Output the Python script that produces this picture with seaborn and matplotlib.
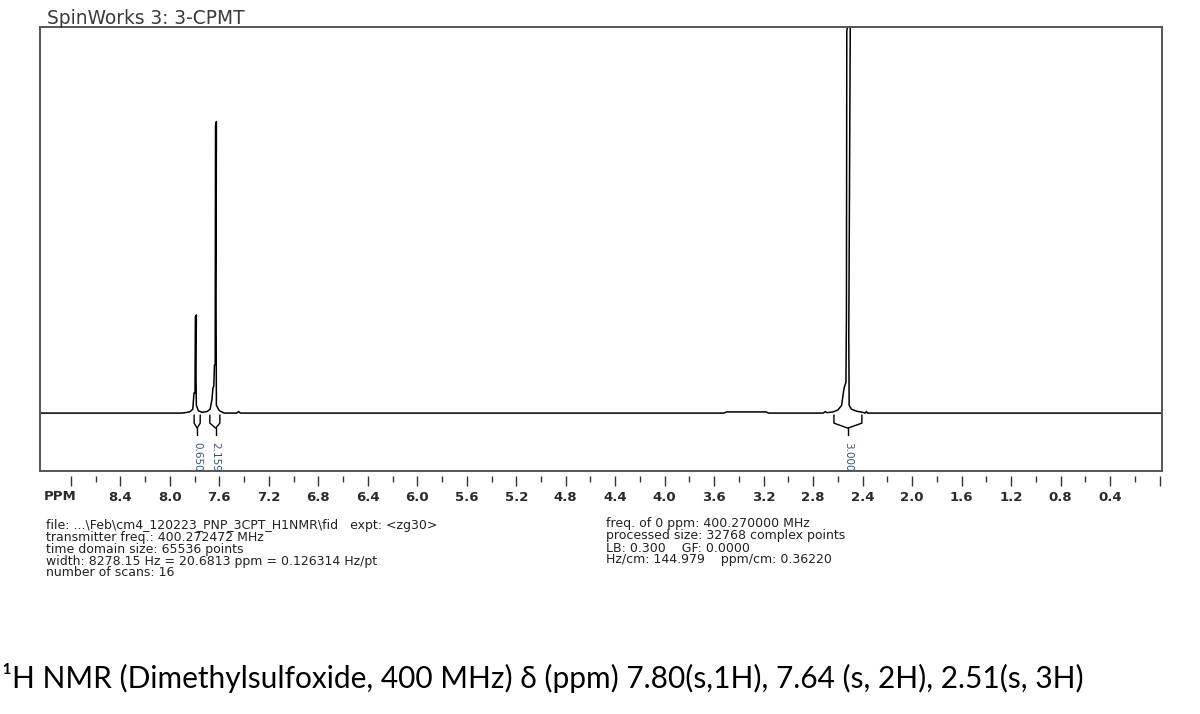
"""
1H NMR 谱图 (SpinWorks 风格) 复刻
输出: out.png
"""
import numpy as np
import pandas as pd
import matplotlib
matplotlib.use('Agg')
import matplotlib.pyplot as plt
from matplotlib.ticker import FixedLocator, NullFormatter
import seaborn as sns

# ---- 数据 ----
# 谱线顶点: 化学位移 (ppm) 与 相对强度 (2.51 峰 = 1.0)
spec_ppm = [9.05, 7.90, 7.84, 7.815, 7.805, 7.797, 7.794, 7.786, 7.789, 7.786, 7.77, 7.74,
            7.70, 7.675, 7.66, 7.652, 7.645, 7.640, 7.634, 7.631, 7.624, 7.627, 7.624, 7.60, 7.56,
            7.46, 7.445, 7.43,
            3.52, 3.50, 3.18, 3.16,
            2.72, 2.70, 2.69, 2.64, 2.60, 2.57, 2.55, 2.535, 2.531, 2.528, 2.522, 2.50,
            2.512, 2.509, 2.49, 2.45, 2.40, 2.38, 2.37, 2.36, -0.02]
spec_int = [0.0, 0.0, 0.003, 0.010, 0.052, 0.052, 0.249, 0.254, 0.10, 0.02, 0.006, 0.002,
            0.004, 0.010, 0.035, 0.065, 0.070, 0.124, 0.126, 0.745, 0.755, 0.30, 0.02, 0.006, 0.0,
            0.0, 0.004, 0.0,
            0.0, 0.003, 0.003, 0.0,
            0.0, 0.004, 0.001, 0.003, 0.008, 0.020, 0.065, 0.080, 0.25, 0.99, 1.0, 1.0,
            0.20, 0.02, 0.010, 0.005, 0.002, 0.0, 0.004, 0.0, 0.0]

# 积分区间 (ppm) 与 积分值
int_left = [7.804, 7.677, 2.632]
int_right = [7.755, 7.596, 2.406]
int_center = [7.780, 7.630, 2.520]
int_labels = ['0.650', '2.159', '3.000']

# 刻度
major_ticks = [8.8, 8.4, 8.0, 7.6, 7.2, 6.8, 6.4, 6.0, 5.6, 5.2, 4.8, 4.4,
               4.0, 3.6, 3.2, 2.8, 2.4, 2.0, 1.6, 1.2, 0.8, 0.4, 0.0]
minor_ticks = [8.6, 8.2, 7.8, 7.4, 7.0, 6.6, 6.2, 5.8, 5.4, 5.0, 4.6, 4.2,
               3.8, 3.4, 3.0, 2.6, 2.2, 1.8, 1.4, 1.0, 0.6, 0.2]
tick_labels = ['', '8.4', '8.0', '7.6', '7.2', '6.8', '6.4', '6.0', '5.6', '5.2', '4.8', '4.4',
               '4.0', '3.6', '3.2', '2.8', '2.4', '2.0', '1.6', '1.2', '0.8', '0.4', '']

info_left = ['file: ...\\Feb\\cm4_120223_PNP_3CPT_H1NMR\\fid   expt: <zg30>',
             'transmitter freq.: 400.272472 MHz',
             'time domain size: 65536 points',
             'width: 8278.15 Hz = 20.6813 ppm = 0.126314 Hz/pt',
             'number of scans: 16']
info_right = ['freq. of 0 ppm: 400.270000 MHz',
              'processed size: 32768 complex points',
              'LB: 0.300    GF: 0.0000',
              'Hz/cm: 144.979    ppm/cm: 0.36220']
caption = '¹H NMR (Dimethylsulfoxide, 400 MHz) δ (ppm) 7.80(s,1H), 7.64 (s, 2H), 2.51(s, 3H)'

# ---- 样式 ----
sns.set_style('white')
plt.rcParams['font.family'] = ['DejaVu Sans']

W, H = 1200, 714
fig = plt.figure(figsize=(W / 100, H / 100), dpi=100)

# 谱图框
ax = fig.add_axes([40 / W, (H - 471) / H, 1122 / W, 444 / H])
df = pd.DataFrame({'ppm': spec_ppm, 'intensity': spec_int})
sns.lineplot(data=df, x='ppm', y='intensity', sort=False, estimator=None,
             color='black', linewidth=1.1, ax=ax)

# 积分曲线
for l, r, c, lab in zip(int_left, int_right, int_center, int_labels):
    ax.plot([l, l, c, r, r], [-0.005, -0.026, -0.039, -0.026, -0.005],
            color='black', linewidth=1.0)
    ax.plot([c, c], [-0.039, -0.057], color='black', linewidth=1.0)
    ax.text(c, -0.114, lab, rotation=270, ha='center', va='center',
            fontsize=7.5, color='#3c4f7a')

ax.set_xlim(9.05, -0.02)
ax.set_ylim(-0.150, 1.0)
ax.set_xticks([])
ax.set_yticks([])
ax.set_xlabel('')
ax.set_ylabel('')
for s in ax.spines.values():
    s.set_visible(True)
    s.set_color('#555555')
    s.set_linewidth(1.4)

# 刻度轴 (框下方, 留一点间隙)
ax_s = fig.add_axes([40 / W, (H - 476) / H, 1122 / W, 0.0001])
ax_s.set_facecolor('none')
for s in ax_s.spines.values():
    s.set_visible(False)
ax_s.yaxis.set_visible(False)
ax_s.set_xlim(9.05, -0.02)
ax_s.xaxis.set_major_locator(FixedLocator(major_ticks))
ax_s.xaxis.set_minor_locator(FixedLocator(minor_ticks))
ax_s.set_xticklabels(tick_labels)
ax_s.xaxis.set_minor_formatter(NullFormatter())
ax_s.tick_params(axis='x', which='both', bottom=True, top=False)
ax_s.tick_params(axis='x', which='major', direction='out', length=7.5, width=1.0,
                 color='#333333', pad=3, labelsize=9.5, labelcolor='#2a2a2a')
ax_s.tick_params(axis='x', which='minor', direction='out', length=4.5, width=1.0,
                 color='#333333')
for t in ax_s.get_xticklabels():
    t.set_fontweight('bold')

fig.text(60 / W, (H - 497) / H, 'PPM', ha='center', va='center',
         fontsize=9.5, fontweight='bold', color='#2a2a2a')

# 标题
fig.text(47 / W, (H - 19) / H, 'SpinWorks 3: 3-CPMT', ha='left', va='center',
         fontsize=13.4, color='#3d3a36')

# 参数信息
for i, line in enumerate(info_left):
    fig.text(46 / W, (H - (525 + 12 * i)) / H, line, ha='left', va='center',
             fontsize=9.0, color='#222222')
for i, line in enumerate(info_right):
    fig.text(606 / W, (H - (524 + 12 * i)) / H, line, ha='left', va='center',
             fontsize=9.0, color='#222222')

# 说明文字
fig.text(2 / W, (H - 678) / H, caption, ha='left', va='center',
         fontsize=21.5, color='black', family=['Lato', 'DejaVu Sans'])

fig.savefig('out.png', dpi=100)
